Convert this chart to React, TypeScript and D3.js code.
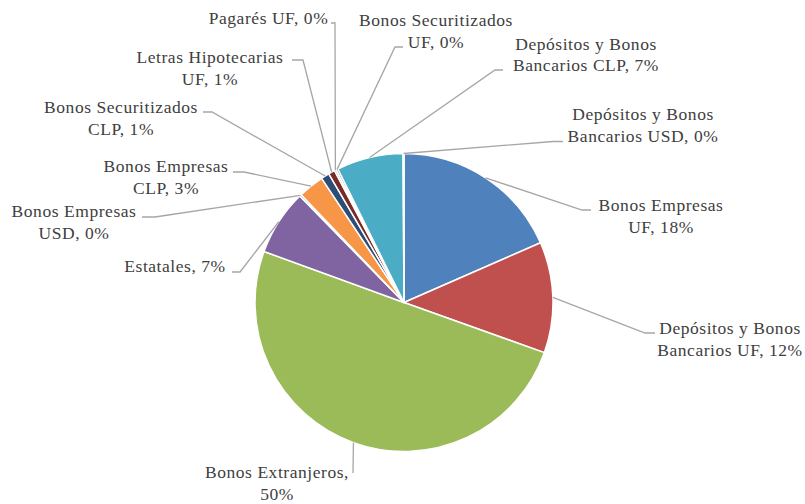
import React from "react";
import * as d3 from "d3";

const categories = [
  "Bonos Empresas UF",
  "Depósitos y Bonos Bancarios UF",
  "Bonos Extranjeros",
  "Estatales",
  "Bonos Empresas USD",
  "Bonos Empresas CLP",
  "Bonos Securitizados CLP",
  "Letras Hipotecarias UF",
  "Pagarés UF",
  "Bonos Securitizados UF",
  "Depósitos y Bonos Bancarios CLP",
  "Depósitos y Bonos Bancarios USD",
];

const values = [18.4, 12.0, 50.0, 7.1, 0.2, 2.8, 0.9, 0.7, 0.2, 0.2, 7.2, 0.1];

// label text split into lines
const labelLines = [
  ["Bonos Empresas", "UF, 18%"],
  ["Depósitos y Bonos", "Bancarios UF, 12%"],
  ["Bonos Extranjeros,", "50%"],
  ["Estatales, 7%"],
  ["Bonos Empresas", "USD, 0%"],
  ["Bonos Empresas", "CLP, 3%"],
  ["Bonos Securitizados", "CLP, 1%"],
  ["Letras Hipotecarias", "UF, 1%"],
  ["Pagarés UF, 0%"],
  ["Bonos Securitizados", "UF, 0%"],
  ["Depósitos y Bonos", "Bancarios CLP, 7%"],
  ["Depósitos y Bonos", "Bancarios USD, 0%"],
];

const colors = [
  "#4F81BD", "#C0504D", "#9BBB59", "#8064A2", "#4BACC6", "#F79646",
  "#2C4D75", "#772C2A", "#5F7530", "#4D3B62", "#4BACC6", "#B65708",
];

// layout of labels: text center x, first baseline y, leader elbow and end
const labelLayout = [
  { cx: 661, y: 211, elbow: [582, 210], end: [591, 210] },
  { cx: 730, y: 334, elbow: [645, 333], end: [655, 333] },
  { cx: 277, y: 478, elbow: [353, 473], end: [353, 473] },
  { cx: 175, y: 272, elbow: [240, 272], end: [232, 272] },
  { cx: 74, y: 217, elbow: [155, 217], end: [142, 217] },
  { cx: 166, y: 172, elbow: [244, 172], end: [233, 172] },
  { cx: 121, y: 113, elbow: [212, 112], end: [203, 112] },
  { cx: 210, y: 63, elbow: [303, 60], end: [292, 60] },
  { cx: 268.5, y: 23.5, elbow: [335, 23], end: [331, 23] },
  { cx: 436, y: 26, elbow: [395, 47], end: [403, 47] },
  { cx: 586, y: 49.5, elbow: [495, 70], end: [503, 70] },
  { cx: 643, y: 120, elbow: [553, 141.5], end: [563, 141.5] },
];

const W = 805;
const H = 504;
const CX = 404;
const CY = 302.5;
const R = 149;
const LINE_H = 21.5;

const css = `
.lbl, .lbl tspan {
  font-family: "Times New Roman", "Liberation Serif", Tinos, serif;
  font-size: 17.5px;
  letter-spacing: 0.55px;
  fill: #404040;
}
`;

export default function App() {
  const data = categories.map((c, i) => ({ c, v: values[i], i }));
  const pie = d3.pie<any>().sort(null).value((d) => d.v).startAngle(0).endAngle(2 * Math.PI);
  const arcs = pie(data);
  const arc = d3.arc<any>().innerRadius(0).outerRadius(R);

  return (
    <svg
      width={W}
      height={H}
      style={{ position: "absolute", left: 0, top: 0, background: "#fff" }}
    >
      <style>{css}</style>
      <rect width={W} height={H} fill="#fff" />
      <g transform={`translate(${CX},${CY})`}>
        {arcs.map((a, i) => (
          <path key={i} d={arc(a) || ""} fill={colors[i]} stroke="#fff" strokeWidth={1.5} strokeLinejoin="round" />
        ))}
      </g>
      {arcs.map((a, i) => {
        const mid = (a.startAngle + a.endAngle) / 2;
        const sx = CX + R * Math.sin(mid);
        const sy = CY - R * Math.cos(mid);
        const L = labelLayout[i];
        const pts = [[sx, sy], L.elbow, L.end];
        return (
          <polyline
            key={"l" + i}
            points={pts.map((p) => p.join(",")).join(" ")}
            fill="none"
            stroke="#A6A6A6"
            strokeWidth={1.3}
          />
        );
      })}
      {labelLines.map((lines, i) => {
        const L = labelLayout[i];
        return (
          <text key={"t" + i} className="lbl" textAnchor="middle">
            {lines.map((ln, j) => (
              <tspan key={j} x={L.cx} y={L.y + j * LINE_H}>
                {ln}
              </tspan>
            ))}
          </text>
        );
      })}
    </svg>
  );
}
